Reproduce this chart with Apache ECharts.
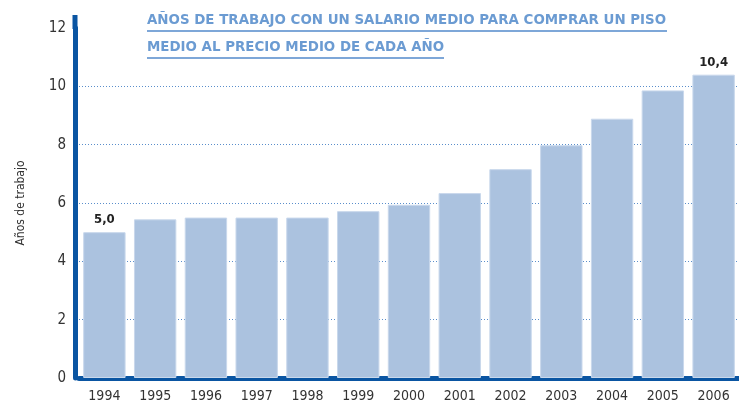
<!DOCTYPE html>
<html>
<head>
<meta charset="utf-8">
<script src="https://cdn.jsdelivr.net/npm/echarts@6/dist/echarts.min.js"></script>
<style>
  html, body { margin: 0; padding: 0; background: #fff; }
  #chart { width: 739px; height: 405px; }
</style>
</head>
<body>
<div id="chart"></div>
<script>
// datos
const years = ['1994', '1995', '1996', '1997', '1998', '1999', '2000', '2001', '2002', '2003', '2004', '2005', '2006'];
const anosTrabajo = [5.0, 5.44, 5.5, 5.5, 5.5, 5.72, 5.94, 6.34, 7.16, 7.98, 8.89, 9.86, 10.4];
const labeledYears = ['1994', '2006']; // solo estos llevan etiqueta
const yTicks = [0, 2, 4, 6, 8, 10, 12];

const titleLines = [
  'AÑOS DE TRABAJO CON UN SALARIO MEDIO PARA COMPRAR UN PISO',
  'MEDIO AL PRECIO MEDIO DE CADA AÑO'
];

const fontNarrow = '"DejaVu Sans Condensed", "Liberation Sans Narrow", "Arial Narrow", sans-serif';
const axisBlue = '#0a55a2';
const titleBlue = '#6b9bd2';
const titleFont = 'bold 13.4px "DejaVu Sans", Verdana, sans-serif';

const myChart = echarts.init(document.getElementById('chart'));

const option = {
  animation: false,
  grid: {
    left: 79,
    right: 0,
    top: 28,
    bottom: 27,
  },
  xAxis: {
    type: 'category',
    data: years,
    axisTick: { show: false },
    axisLine: {
      lineStyle: { color: axisBlue, width: 5 },
    },
    axisLabel: {
      color: '#333',
      fontFamily: fontNarrow,
      fontSize: 14,
      margin: 11,
    },
  },
  yAxis: {
    type: 'value',
    min: yTicks[0],
    max: yTicks[yTicks.length - 1],
    interval: yTicks[1] - yTicks[0],
    offset: 4,
    name: 'Años de trabajo',
    nameLocation: 'middle',
    nameGap: 48,
    nameTextStyle: {
      color: '#333',
      fontFamily: fontNarrow,
      fontSize: 12,
    },
    axisLine: {
      show: true,
      lineStyle: { color: axisBlue, width: 5 },
    },
    axisTick: { show: false },
    axisLabel: {
      color: '#333',
      fontFamily: fontNarrow,
      fontSize: 15,
      margin: 9,
    },
    splitLine: {
      show: true,
      showMaxLine: false,
      lineStyle: { color: '#5a8ecb', type: [1, 2], width: 1 },
    },
  },
  series: [
    {
      type: 'bar',
      barCategoryGap: '16.5%',
      itemStyle: {
        color: '#abc2df',
        borderColor: '#c9d8ec',
        borderWidth: 1,
      },
      label: {
        position: 'top',
        distance: 6,
        color: '#222',
        fontFamily: fontNarrow,
        fontWeight: 'bold',
        fontSize: 13,
        formatter: (p) => p.value.toFixed(1).replace('.', ','),
      },
      data: anosTrabajo.map((v, i) => ({
        value: v,
        label: { show: labeledYears.includes(years[i]) },
      })),
    },
  ],
  graphic: [
    // prolongación del eje vertical por encima del 12
    { type: 'rect', shape: { x: 72.5, y: 15, width: 5, height: 14 }, style: { fill: axisBlue } },
    // título en dos líneas subrayadas
    { type: 'text', left: 147, top: 14, style: { text: titleLines[0], fill: titleBlue, font: titleFont } },
    { type: 'rect', shape: { x: 147, y: 30, width: 520, height: 2 }, style: { fill: '#7ea7d8' } },
    { type: 'text', left: 147, top: 41, style: { text: titleLines[1], fill: titleBlue, font: titleFont } },
    { type: 'rect', shape: { x: 147, y: 57, width: 297, height: 2 }, style: { fill: '#7ea7d8' } },
  ],
};

myChart.setOption(option);
</script>
</body>
</html>
